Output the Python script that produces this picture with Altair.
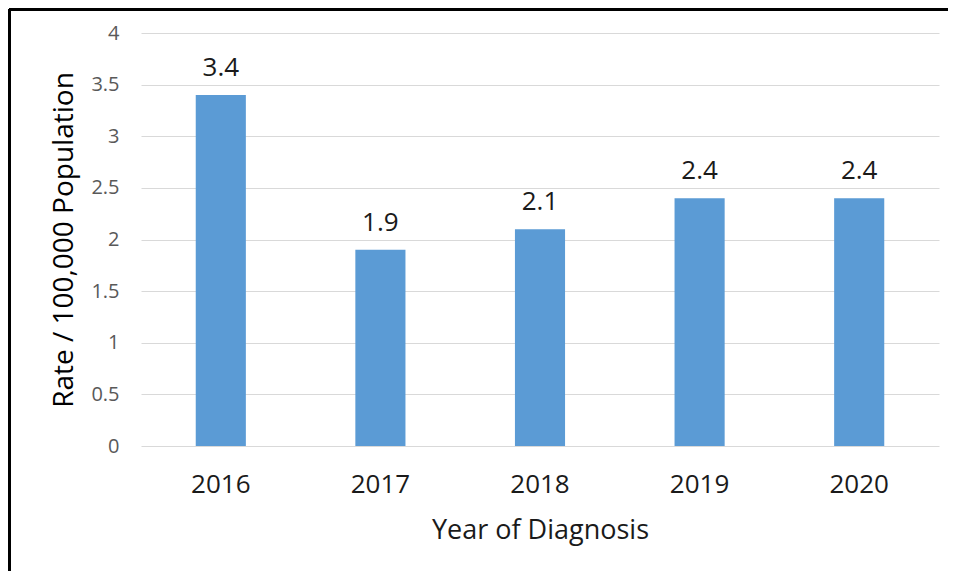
import altair as alt
import pandas as pd

years = ["2016", "2017", "2018", "2019", "2020"]
rates = [3.4, 1.9, 2.1, 2.4, 2.4]
y_ticks = [0, 0.5, 1, 1.5, 2, 2.5, 3, 3.5, 4]

df = pd.DataFrame({"year": years, "rate": rates})

FONT = "Open Sans"
W, H = 798, 413

base = alt.Chart(df)

bars = base.mark_bar(color="#5b9bd5").encode(
    x=alt.X(
        "year:N",
        sort=years,
        scale=alt.Scale(paddingInner=0.686, paddingOuter=0.343),
        axis=alt.Axis(
            title="Year of Diagnosis",
            labelAngle=0,
            labelFont=FONT,
            labelFontSize=26,
            labelColor="#1a1a1a",
            labelPadding=25,
            ticks=False,
            domain=False,
            titleFont=FONT,
            titleFontSize=27,
            titleFontWeight="normal",
            titleColor="#1a1a1a",
            titleY=84,
            titleBaseline="middle",
        ),
    ),
    y=alt.Y(
        "rate:Q",
        scale=alt.Scale(domain=[0, 4], nice=False),
        axis=alt.Axis(
            title="Rate / 100,000 Population",
            values=y_ticks,
            format="~g",
            labelFont=FONT,
            labelFontSize=20,
            labelColor="#595959",
            labelPadding=22,
            ticks=False,
            domain=False,
            gridColor="#d9d9d9",
            gridWidth=1,
            titleFont=FONT,
            titleFontSize=28,
            titleFontWeight="normal",
            titleColor="#000000",
            titleX=-77,
            titleBaseline="middle",
        ),
    ),
)

labels = base.mark_text(
    font=FONT, fontSize=26, color="#1a1a1a", baseline="bottom", dy=-14
).encode(
    x=alt.X("year:N", sort=years),
    y=alt.Y("rate:Q"),
    text=alt.Text("rate:Q", format=".1f"),
)

border_top = base.mark_rule(color="#000000", strokeWidth=3).encode(
    x=alt.value(-132), x2=alt.value(W + 9), y=alt.value(-23.5)
)
border_left = base.mark_rule(color="#000000", strokeWidth=3).encode(
    x=alt.value(-131.5), y=alt.value(-24), y2=alt.value(H + 150)
)

chart = (
    alt.layer(bars, labels, border_top, border_left)
    .properties(
        width=W,
        height=H,
        autosize=alt.AutoSizeParams(type="none"),
        padding={"left": 133, "top": 25, "right": 9, "bottom": 125},
        background="white",
    )
    .configure_view(stroke=None)
)

chart.save("out.html", embed_options={"renderer": "svg", "actions": False})
